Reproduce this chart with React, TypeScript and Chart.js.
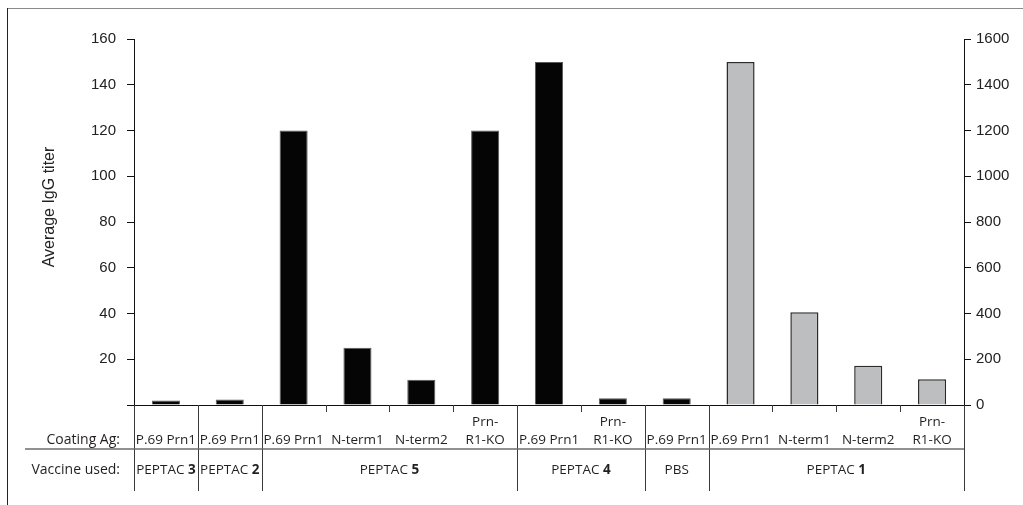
import React, { useEffect, useRef } from "react";
import { Chart, registerables } from "chart.js";

Chart.register(...registerables);

// ---- data ----
const coatingAg: string[][] = [
  ["P.69 Prn1"],
  ["P.69 Prn1"],
  ["P.69 Prn1"],
  ["N-term1"],
  ["N-term2"],
  ["Prn-", "R1-KO"],
  ["P.69 Prn1"],
  ["Prn-", "R1-KO"],
  ["P.69 Prn1"],
  ["P.69 Prn1"],
  ["N-term1"],
  ["N-term2"],
  ["Prn-", "R1-KO"],
];
const leftTiters: (number | null)[] = [2, 2.4, 120, 25, 11, 120, 150, 3, 3, null, null, null, null];
const rightTiters: (number | null)[] = [null, null, null, null, null, null, null, null, null, 1500, 405, 172, 113];
const vaccineNames: string[] = ["PEPTAC ", "PEPTAC ", "PEPTAC ", "PEPTAC ", "PBS", "PEPTAC "];
const vaccineNumbers: string[] = ["3", "2", "5", "4", "", "1"];
const vaccineSpans: number[] = [1, 1, 4, 2, 1, 4];
const leftTicks = { min: 0, max: 160, step: 20 };
const rightTicks = { min: 0, max: 1600, step: 200 };
const yTitle = "Average IgG titer";
const rowLabels = ["Coating Ag:", "Vaccine used:"];

const TABLE_FONT = '"Open Sans", "Noto Sans", sans-serif';
const AXIS_FONT = '"Liberation Sans", Arial, sans-serif';
const CELL_SIZE = 13.5;

const tablePlugin = {
  id: "tablePlugin",
  afterDraw(chart: any) {
    const ctx = chart.ctx as CanvasRenderingContext2D;
    const area = chart.chartArea;
    const xs = chart.scales.x;
    const ys = chart.scales.y;
    const n = coatingAg.length;
    const y0 = ys.getPixelForValue(0);
    const cw = xs.getPixelForValue(1) - xs.getPixelForValue(0);
    const bound = (i: number) => xs.getPixelForValue(i) - cw / 2;

    ctx.save();
    // outer frame (top and left)
    ctx.strokeStyle = "#8a8a8a";
    ctx.lineWidth = 1.2;
    ctx.beginPath();
    ctx.moveTo(7, 8.5);
    ctx.lineTo(1023, 8.5);
    ctx.stroke();
    ctx.strokeStyle = "#222";
    ctx.lineWidth = 1;
    ctx.beginPath();
    ctx.moveTo(7.5, 8);
    ctx.lineTo(7.5, 505);
    ctx.stroke();

    // baseline
    ctx.strokeStyle = "#111";
    ctx.lineWidth = 1;
    ctx.beginPath();
    ctx.moveTo(area.left, Math.round(y0) + 0.5);
    ctx.lineTo(area.right, Math.round(y0) + 0.5);
    ctx.stroke();

    // group boundaries
    const groupBounds = new Set<number>();
    let acc = 0;
    groupBounds.add(0);
    vaccineSpans.forEach((s) => {
      acc += s;
      groupBounds.add(acc);
    });
    const tableBottom = 491;
    for (let i = 0; i <= n; i++) {
      const x = Math.round(bound(i)) + 0.5;
      ctx.strokeStyle = "#3a3a3a";
      ctx.lineWidth = 1;
      ctx.beginPath();
      ctx.moveTo(x, y0);
      ctx.lineTo(x, groupBounds.has(i) ? tableBottom : y0 + 7);
      ctx.stroke();
    }
    // horizontal separator
    ctx.strokeStyle = "#6d6d6d";
    ctx.lineWidth = 1.5;
    ctx.beginPath();
    ctx.moveTo(25, 449);
    ctx.lineTo(bound(n), 449);
    ctx.stroke();

    // coating labels
    ctx.fillStyle = "#231f20";
    ctx.font = `${CELL_SIZE}px ${TABLE_FONT}`;
    ctx.textBaseline = "middle";
    ctx.textAlign = "center";
    coatingAg.forEach((lines, i) => {
      const cx = xs.getPixelForValue(i);
      const lh = 18;
      lines.forEach((t, j) => {
        const y = 440 - (lines.length - 1 - j) * lh;
        ctx.fillText(t, cx, y);
      });
    });
    // row labels
    ctx.font = `14px ${TABLE_FONT}`;
    ctx.textAlign = "right";
    ctx.fillText(rowLabels[0], 120, 440);
    ctx.fillText(rowLabels[1], 120, 470);

    // vaccine labels
    let start = 0;
    vaccineSpans.forEach((s, gi) => {
      const cx = (bound(start) + bound(start + s)) / 2;
      ctx.font = `${CELL_SIZE}px ${TABLE_FONT}`;
      const w1 = ctx.measureText(vaccineNames[gi]).width;
      ctx.font = `bold ${CELL_SIZE}px ${TABLE_FONT}`;
      const w2 = vaccineNumbers[gi] ? ctx.measureText(vaccineNumbers[gi]).width : 0;
      const x0 = cx - (w1 + w2) / 2;
      ctx.textAlign = "left";
      ctx.font = `${CELL_SIZE}px ${TABLE_FONT}`;
      ctx.fillText(vaccineNames[gi], x0, 470);
      if (vaccineNumbers[gi]) {
        ctx.font = `bold ${CELL_SIZE}px ${TABLE_FONT}`;
        ctx.fillText(vaccineNumbers[gi], x0 + w1, 470);
      }
      start += s;
    });

    // y-axis title
    ctx.translate(50, 207);
    ctx.rotate(-Math.PI / 2);
    ctx.textAlign = "center";
    ctx.textBaseline = "middle";
    ctx.font = `16px ${AXIS_FONT}`;
    ctx.fillStyle = "#222";
    ctx.fillText(yTitle, 0, 0);
    ctx.restore();
  },
};

export default function App() {
  const ref = useRef<HTMLCanvasElement | null>(null);
  useEffect(() => {
    if (!ref.current) return;
    const chart = new Chart(ref.current, {
      type: "bar",
      data: {
        labels: coatingAg,
        datasets: [
          {
            label: "Average IgG titer (left axis)",
            data: leftTiters,
            yAxisID: "y",
            backgroundColor: "#050505",
            borderColor: "#5a5a5a",
            borderWidth: 1,
            grouped: false,
            categoryPercentage: 1,
            barPercentage: 0.44,
          } as any,
          {
            label: "Average IgG titer (right axis)",
            data: rightTiters,
            yAxisID: "y1",
            backgroundColor: "#bdbec0",
            borderColor: "#2b2b2b",
            borderWidth: 1.5,
            grouped: false,
            categoryPercentage: 1,
            barPercentage: 0.44,
          } as any,
        ],
      },
      options: {
        responsive: false,
        animation: false,
        layout: { padding: { top: 39, bottom: 100, left: 0, right: 0 } },
        plugins: { legend: { display: false }, tooltip: { enabled: false } },
        scales: {
          x: { display: false, offset: true },
          y: {
            position: "left",
            min: leftTicks.min,
            max: leftTicks.max,
            ticks: {
              stepSize: leftTicks.step,
              padding: 11,
              color: "#222",
              font: { family: AXIS_FONT, size: 15 },
              callback: (v: any) => (v === 0 ? "" : String(v)),
            },
            grid: { drawOnChartArea: false, tickLength: 7, color: "#111", tickWidth: 1 },
            border: { display: true, color: "#111", width: 1 },
            afterFit: (s: any) => {
              s.width = 134;
            },
          },
          y1: {
            position: "right",
            min: rightTicks.min,
            max: rightTicks.max,
            ticks: {
              stepSize: rightTicks.step,
              padding: 5,
              color: "#222",
              font: { family: AXIS_FONT, size: 15 },
              callback: (v: any) => String(v),
            },
            grid: { drawOnChartArea: false, tickLength: 7, color: "#111", tickWidth: 1 },
            border: { display: true, color: "#111", width: 1 },
            afterFit: (s: any) => {
              s.width = 59;
            },
          },
        },
      } as any,
      plugins: [tablePlugin],
    });
    return () => chart.destroy();
  }, []);
  return (
    <div style={{ position: "fixed", left: 0, top: 0, width: 1023, height: 505, background: "#fff" }}>
      <canvas ref={ref} width={1023} height={505} style={{ display: "block" }} />
    </div>
  );
}
